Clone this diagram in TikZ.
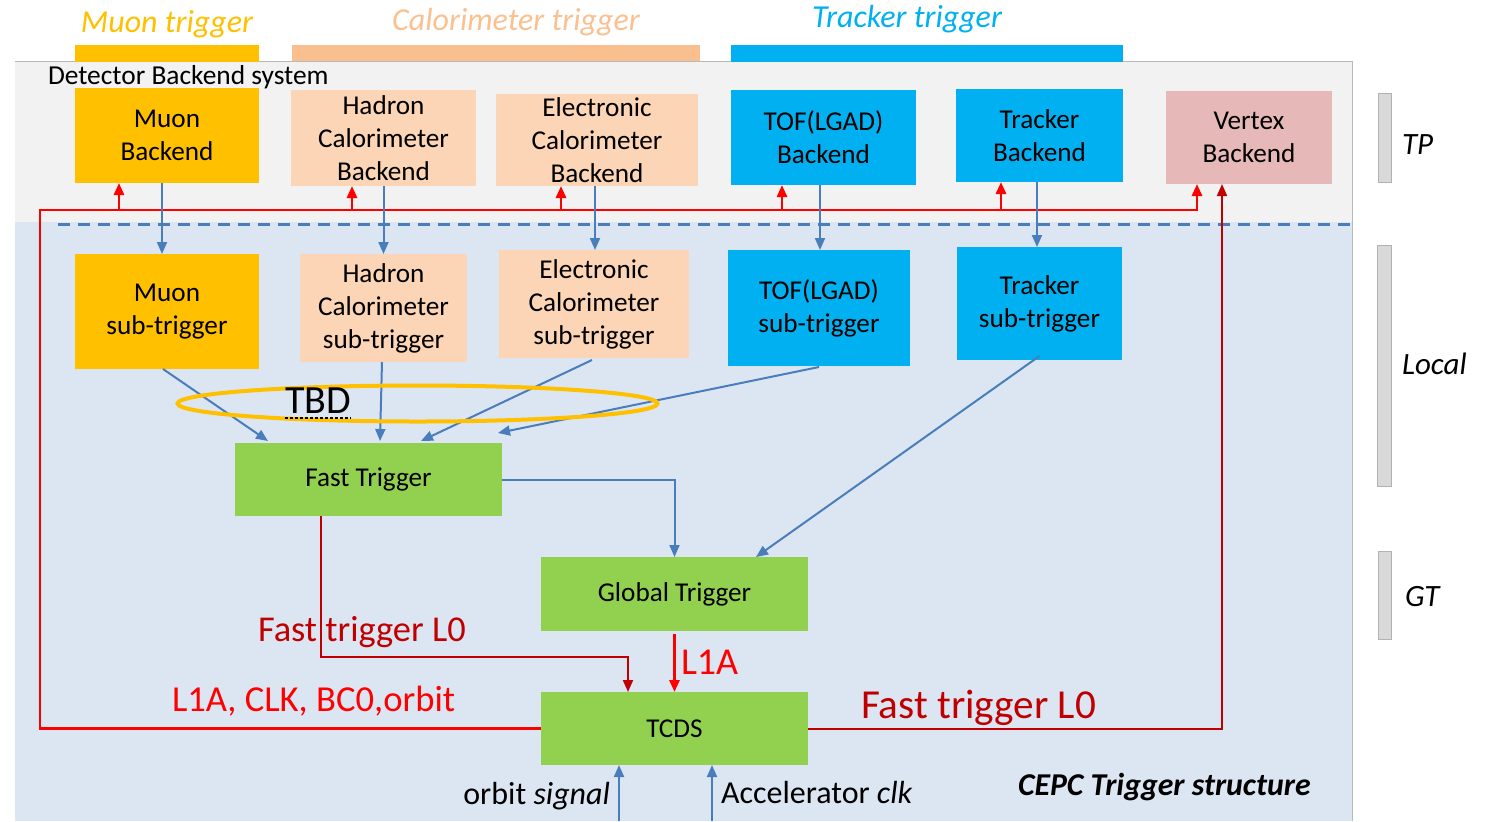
\documentclass[tikz,border=0pt]{standalone}
\usepackage{fontspec}
\setmainfont{Carlito}
\usetikzlibrary{arrows.meta,calc}
\definecolor{muon}{HTML}{FFC000}
\definecolor{calo}{HTML}{FBD5B5}
\definecolor{calobar}{HTML}{F9BF8F}
\definecolor{calotxt}{HTML}{FAC090}
\definecolor{trk}{HTML}{00B0F0}
\definecolor{vtx}{HTML}{E6B9B8}
\definecolor{grn}{HTML}{92D050}
\definecolor{bgtop}{HTML}{F2F2F2}
\definecolor{bgbot}{HTML}{DCE6F2}
\definecolor{arrblue}{HTML}{4A7EBB}
\definecolor{dred}{HTML}{C00000}
\definecolor{bred}{HTML}{FF0000}
\definecolor{sidebar}{HTML}{D9D9D9}
\begin{document}
\begin{tikzpicture}[x=0.5pt,y=-0.5pt,
  box/.style={inner sep=0pt, outer sep=0pt, align=center, font=\fontsize{13.6}{16.5}\selectfont, text=black},
  sz/.style 2 args={minimum width=#1*0.5pt, minimum height=#2*0.5pt},
  lbl/.style={inner sep=0pt, outer sep=0pt},
  tip/.style={-{Triangle[width=5pt,length=6pt]}},
  blu/.style={draw=arrblue, line width=1pt, tip},
  redarr/.style={draw=bred, line width=1.4pt, tip},
  dredarr/.style={draw=dred, line width=1pt, tip},
  sidebarbox/.style={fill=sidebar, draw=gray!60, line width=0.4pt},
  sidelbl/.style={lbl, anchor=base west, font=\fontsize{15.5}{18}\selectfont\itshape},
  toplbl/.style={lbl, anchor=base, font=\fontsize{16}{19}\selectfont\itshape},
]
\useasboundingbox (0,0) rectangle (1496,821);
% backgrounds
\fill[bgbot] (15,222) rectangle (1352,821);
\fill[bgtop] (15,61) rectangle (1352,222);
\draw[gray!55, line width=0.5pt] (15,61) -- (1352,61) -- (1352,821);
\draw[arrblue, line width=1.5pt, dash pattern=on 6pt off 4pt] (58,224) -- (1352,224);
% top bars
\fill[muon] (75,45) rectangle (259,62);
\fill[calobar] (292,45) rectangle (700,61);
\fill[trk] (731,45) rectangle (1123,62);
\node[toplbl, text=muon] (tmu) at (167,32) {Muon trigger};
\node[toplbl, text=calotxt] (tca) at (516,30) {Calorimeter trigger};
\node[toplbl, text=trk] (ttr) at (907,27) {Tracker trigger};
\node[lbl, anchor=base west, font=\fontsize{13.7}{16}\selectfont] (dbs) at (48,84) {Detector Backend system};
% side bars
\filldraw[sidebarbox] (1378,93) rectangle (1391,182);
\filldraw[sidebarbox] (1377,245) rectangle (1391,486);
\filldraw[sidebarbox] (1378,551) rectangle (1391,639);
\node[sidelbl] (ltp) at (1402,154) {TP};
\node[sidelbl] (lloc) at (1402,374) {Local};
\node[sidelbl] (lgt) at (1405,606) {GT};
% backend boxes
\node[box, fill=muon, sz={184}{95}] (mb) at (167,135.5) {Muon\\Backend};
\node[box, fill=calo, sz={185}{96}] (hb) at (383.5,138) {Hadron\\Calorimeter\\Backend};
\node[box, fill=calo, sz={202}{92}] (eb) at (597,140) {Electronic\\Calorimeter\\Backend};
\node[box, fill=trk, sz={185}{95}] (tb) at (823.5,137.5) {TOF(LGAD)\\Backend};
\node[box, fill=trk, sz={167}{93}] (kb) at (1039.5,135.5) {Tracker\\Backend};
\node[box, fill=vtx, sz={166}{93}] (vb) at (1249,137.5) {Vertex\\Backend};
% sub-trigger boxes
\node[box, fill=muon, sz={184}{115}] (ms) at (167,311.5) {Muon\\sub-trigger};
\node[box, fill=calo, sz={167}{108}] (hs) at (383.5,308) {Hadron\\Calorimeter\\sub-trigger};
\node[box, fill=calo, sz={190}{108}] (es) at (594,304) {Electronic\\Calorimeter\\sub-trigger};
\node[box, fill=trk, sz={182}{116}] (ts) at (819,308) {TOF(LGAD)\\sub-trigger};
\node[box, fill=trk, sz={165}{113}] (ks) at (1039.5,303.5) {Tracker\\sub-trigger};
% trigger boxes
\node[box, fill=grn, sz={267}{73}] (ft) at (368.5,479.5) {Fast Trigger};
\node[box, fill=grn, sz={267}{74}] (gt) at (674.5,594) {Global Trigger};
\node[box, fill=grn, sz={267}{73}] (tc) at (674.5,728.5) {TCDS};
% red L1A distribution bus
\coordinate (b1) at (119,210);
\coordinate (b2) at (352,210);
\coordinate (b3) at (561,210);
\coordinate (b4) at (782,210);
\coordinate (b5) at (1001,210);
\draw[redarr] (tc.west) -| (40,210) -| ([xshift=-26pt]vb.south);
\draw[redarr] (b1) -- (b1 |- mb.south);
\draw[redarr] (b2) -- (b2 |- hb.south);
\draw[redarr] (b3) -- (b3 |- eb.south);
\draw[redarr] (b4) -- (b4 |- tb.south);
\draw[redarr] (b5) -- (b5 |- kb.south);
% fast trigger L0 to vertex
\draw[dredarr] (tc.east) -| ([xshift=-13.5pt]vb.south);
% fast trigger L0 to TCDS
\coordinate (l0a) at (321,657);
\draw[dredarr] (ft.south -| l0a) -- (l0a) -| ([xshift=-23.25pt]tc.north);
% L1A
\draw[redarr] ([yshift=-1.5pt]gt.south) -- (tc.north);
% blue backend -> sub-trigger
\draw[blu] ([xshift=-2.5pt]mb.south) -- ([xshift=-2.5pt]ms.north);
\draw[blu] (hb.south) -- (hb.south |- hs.north);
\draw[blu] ([xshift=-1pt]eb.south) -- ([xshift=-1pt]eb.south |- es.north);
\draw[blu] ([xshift=-1.75pt]tb.south) -- ([xshift=-1.75pt]tb.south |- ts.north);
\draw[blu] ([xshift=-1.25pt]kb.south) -- ([xshift=-1.25pt]kb.south |- ks.north);
% blue sub-trigger -> fast trigger
\draw[blu] ([xshift=-2pt]ms.south) -- ([xshift=-50.25pt,yshift=1pt]ft.north);
\draw[blu] ([xshift=-0.75pt]hs.south) -- ([xshift=5.75pt,yshift=1pt]ft.north);
\draw[blu] ([xshift=-1pt,yshift=-1pt]es.south) -- ([xshift=26.25pt,yshift=1pt]ft.north);
\draw[blu] ([yshift=-0.5pt]ts.south) -- ([xshift=-2pt,yshift=5pt]ft.north east);
% TBD ellipse
\draw[muon, line width=2pt] (417.5,403.5) ellipse [x radius=240, y radius=18];
\node[lbl, anchor=base west, font=\fontsize{20}{24}\selectfont] (tbd) at (285,413) {TBD};
\draw[black, line width=0.6pt, dash pattern=on 1.5pt off 1pt] ([yshift=-2.5pt]tbd.base west) -- ([yshift=-2.5pt]tbd.base east);
% to global trigger
\draw[blu] (ft.east) -| (gt.north);
\draw[blu] ([yshift=2pt]ks.south) -- ([xshift=40.75pt]gt.north);
% external inputs
\coordinate (orb) at (619,821);
\coordinate (acc) at (712,821);
\draw[blu] (orb) -- (orb |- tc.south);
\draw[blu] (acc) -- (acc |- tc.south);
% labels
\node[lbl, anchor=base west, text=dred, font=\fontsize{18.2}{21}\selectfont] (lfl0) at (258,641) {Fast trigger L0};
\node[lbl, anchor=base west, text=bred, font=\fontsize{19}{22}\selectfont] (ll1a) at (681,674) {L1A};
\node[lbl, anchor=base west, text=bred, font=\fontsize{18.3}{21}\selectfont] (lbus) at (172,711) {L1A, CLK, BC0,orbit};
\node[lbl, anchor=base west, text=dred, font=\fontsize{20.6}{24}\selectfont] (rfl0) at (861,718) {Fast trigger L0};
\node[lbl, anchor=base east, font=\fontsize{16}{18}\selectfont] (lorb) at (610,804) {orbit \textit{signal}};
\node[lbl, anchor=base west, font=\fontsize{16}{18}\selectfont] (lacc) at (721,803) {Accelerator \textit{clk}};
\node[lbl, anchor=base west, font=\fontsize{15.9}{18}\selectfont\bfseries\itshape] (lcepc) at (1018,795) {CEPC Trigger structure};
\end{tikzpicture}
\end{document}
